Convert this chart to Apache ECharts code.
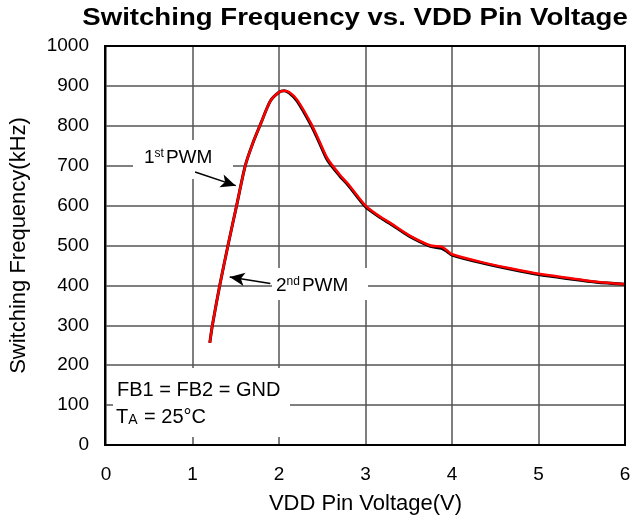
<!DOCTYPE html>
<html>
<head>
<meta charset="utf-8">
<script src="https://cdn.jsdelivr.net/npm/echarts@6/dist/echarts.min.js"></script>
<style>
  html, body { margin: 0; padding: 0; background: #fff; }
</style>
</head>
<body>
<div id="chart" style="width: 637px; height: 524px;"></div>
<script>
// VDD pin voltage (V) and switching frequency (kHz)
const vdd = [1.2, 1.23, 1.315, 1.41, 1.51, 1.61, 1.7, 1.79, 1.9, 2.0, 2.06, 2.12, 2.21, 2.37, 2.47, 2.56, 2.7, 2.8, 3.0, 3.17, 3.29, 3.5, 3.75, 3.88, 3.95, 4.0, 4.33, 4.67, 5.0, 5.37, 5.67, 6.0]
const freqRed = [256, 300, 400, 500, 600, 700, 758, 806, 862, 884, 888, 884, 865, 806, 760, 718, 678, 654, 600, 572, 556, 526, 500, 497, 486, 478, 459, 443, 429, 418, 409, 403]
const freqBlack = [256, 300, 400, 500, 600, 700, 758, 806, 862, 884, 888, 882, 862, 802, 756, 714, 675, 651, 597, 570, 554, 524, 498, 493, 484, 476, 457, 441, 427, 416, 408, 403]
const xTicks = [0, 1, 2, 3, 4, 5, 6]
const yTicks = [0, 100, 200, 300, 400, 500, 600, 700, 800, 900, 1000]

const chart = echarts.init(document.getElementById('chart'))
const font = 'Liberation Sans, Arial, sans-serif'

const option = {
  animation: false,
  grid: { left: 105, right: 12, top: 46, bottom: 79 },
  xAxis: {
    type: 'value',
    min: xTicks[0],
    max: xTicks[xTicks.length - 1],
    interval: 1,
    name: 'VDD Pin Voltage(V)',
    nameLocation: 'middle',
    nameGap: 48,
    nameTextStyle: { fontFamily: font, fontSize: 22, color: '#000' },
    axisLine: { show: false },
    axisTick: { show: false },
    axisLabel: { fontFamily: font, fontSize: 19, color: '#000', margin: 20 },
    splitLine: { show: true, lineStyle: { color: '#555', width: 1.5 } }
  },
  yAxis: {
    type: 'value',
    min: yTicks[0],
    max: yTicks[yTicks.length - 1],
    interval: 100,
    name: 'Switching Frequency(kHz)',
    nameLocation: 'middle',
    nameGap: 76,
    nameTextStyle: { fontFamily: font, fontSize: 22, color: '#000' },
    axisLine: { show: false },
    axisTick: { show: false },
    axisLabel: { fontFamily: font, fontSize: 19, color: '#000', margin: 17, formatter: v => String(v) },
    splitLine: { show: true, lineStyle: { color: '#555', width: 1.5 } }
  },
  series: [
    {
      type: 'line',
      data: vdd.map((v, i) => [v, freqBlack[i]]),
      smooth: 0.25,
      symbol: 'none',
      lineStyle: { color: '#000', width: 3 },
      z: 3
    },
    {
      type: 'line',
      data: vdd.map((v, i) => [v, freqRed[i]]),
      smooth: 0.25,
      symbol: 'none',
      lineStyle: { color: '#f00', width: 2.5 },
      z: 4,
      markLine: {
        silent: true,
        symbol: ['none', 'arrow'],
        symbolSize: [10, 15],
        lineStyle: { color: '#000', width: 1.5, type: 'solid' },
        label: { show: false },
        data: [
          [{ coord: [1.03, 684] }, { coord: [1.50, 650] }],
          [{ coord: [1.90, 405] }, { coord: [1.43, 421] }]
        ]
      }
    }
  ],
  graphic: [
    {
      type: 'text',
      x: 355, y: 19,
      scaleX: 1.2,
      style: {
        text: 'Switching Frequency vs. VDD Pin Voltage',
        fontFamily: font, fontSize: 23, fontWeight: 'bold', fill: '#000',
        align: 'center', verticalAlign: 'middle'
      }
    },
    {
      type: 'rect',
      shape: { x: 105, y: 46, width: 520, height: 399 },
      style: { fill: 'none', stroke: '#000', lineWidth: 2 },
      z: 10
    },
    {
      type: 'rect',
      shape: { x: 133, y: 140, width: 100, height: 39 },
      style: { fill: '#fff' },
      z: 1
    },
    {
      type: 'text',
      x: 144, y: 158,
      z: 20,
      style: {
        text: '1{sup|st}PWM',
        fontFamily: font, fontSize: 19, fill: '#000', verticalAlign: 'middle',
        rich: { sup: { fontSize: 12, verticalAlign: 'top', padding: [0, 2, 9, 0], fontFamily: font } }
      }
    },
    {
      type: 'rect',
      shape: { x: 272, y: 268, width: 96, height: 32 },
      style: { fill: '#fff' },
      z: 1
    },
    {
      type: 'text',
      x: 276, y: 286,
      z: 20,
      style: {
        text: '2{sup|nd}PWM',
        fontFamily: font, fontSize: 19, fill: '#000', verticalAlign: 'middle',
        rich: { sup: { fontSize: 12, verticalAlign: 'top', padding: [0, 2, 9, 0], fontFamily: font } }
      }
    },
    {
      type: 'rect',
      shape: { x: 113, y: 368, width: 177, height: 69 },
      style: { fill: '#fff' },
      z: 1
    },
    {
      type: 'text',
      x: 117, y: 390,
      z: 20,
      style: { text: 'FB1 = FB2 = GND', fontFamily: font, fontSize: 20, fill: '#000', verticalAlign: 'middle' }
    },
    {
      type: 'text',
      x: 116, y: 417,
      z: 20,
      style: {
        text: 'T{sub|A} = 25°C',
        fontFamily: font, fontSize: 20, fill: '#000', verticalAlign: 'middle',
        rich: { sub: { fontSize: 14, verticalAlign: 'bottom', padding: [7, 1, 0, 0], fontFamily: font } }
      }
    }
  ]
}

chart.setOption(option)
</script>
</body>
</html>
